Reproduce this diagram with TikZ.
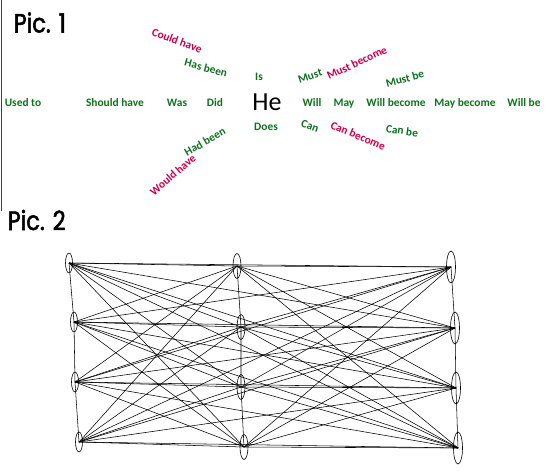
\documentclass[tikz,border=0pt]{standalone}
\usepackage{fontspec}
\setmainfont{Carlito}
\newfontfamily\picfont[FakeStretch=0.85,FakeBold=2]{Poppins}
\usetikzlibrary{shapes.geometric}
\definecolor{wgreen}{RGB}{16,112,32}
\definecolor{wred}{RGB}{200,0,80}
\begin{document}
\begin{tikzpicture}[x=1pt,y=-1pt,
  wbase/.style={font=\bfseries\fontsize{11.4}{12}\selectfont,inner sep=0pt,text height=7.3pt,text depth=0pt,anchor=center},
  gw/.style={wbase,text=wgreen},
  rw/.style={wbase,text=wred},
  titletext/.style={font=\picfont\fontsize{26.5}{30}\selectfont,inner sep=0pt,anchor=base west},
  vtx/.style={draw,ellipse,inner sep=0pt,line width=0.6pt},
  lv/.style={vtx,minimum width=7pt,minimum height=20pt},
  mv/.style={vtx,minimum width=8pt,minimum height=25pt},
  rv/.style={vtx,minimum width=9pt,minimum height=32pt},
  edge/.style={line width=0.55pt}]
\useasboundingbox (0,0) rectangle (552,471);
\fill[white] (0,0) rectangle (552,471);
% left rule
\coordinate (ruletop) at (1.5,0);
\coordinate (rulebot) at (1.5,211);
\draw[line width=1pt,black!75] (ruletop) -- (rulebot);
% titles
\node[titletext] (pic1) at (13.5,32.5) {Pic. 1};
\node[titletext] (pic2) at (7.5,230) {Pic. 2};
% Pic 1 words
\node[font=\fontsize{26}{28}\selectfont,inner sep=0pt,anchor=base] (he) at (267,110) {He};
\node[gw] (usedto) at (23,102.5) {Used to};
\node[gw] (shouldhave) at (115,102.5) {Should have};
\node[gw] (was) at (177,102.5) {Was};
\node[gw] (did) at (215,102.5) {Did};
\node[gw] (will) at (312,102.5) {Will};
\node[gw] (may) at (344,102.5) {May};
\node[gw] (willbecome) at (396,102.5) {Will become};
\node[gw] (maybecome) at (465,102.5) {May become};
\node[gw] (willbe) at (524,102.5) {Will be};
\node[gw] (is) at (259,77) {Is};
\node[gw] (does) at (266,127) {Does};
\node[rw,rotate=-20] (couldhave) at (177,41) {Could have};
\node[gw,rotate=-15] (hasbeen) at (206,68) {Has been};
\node[gw,rotate=30] (hadbeen) at (205,142) {Had been};
\node[rw,rotate=41] (wouldhave) at (173,175) {Would have};
\node[gw,rotate=18] (must) at (310,76) {Must};
\node[rw,rotate=25] (mustbecome) at (357,63) {Must become};
\node[gw,rotate=15] (mustbe) at (405,79) {Must be};
\node[gw,rotate=-20] (can) at (310,126) {Can};
\node[rw,rotate=-23] (canbecome) at (358,136) {Can become};
\node[gw,rotate=-8] (canbe) at (402,131) {Can be};
% Pic 2 graph
\node[lv] (L1) at (69,263) {};
\node[lv] (L2) at (74,322) {};
\node[lv] (L3) at (75,382) {};
\node[lv] (L4) at (79,442) {};
\node[mv] (M1) at (237,266) {};
\node[mv] (M2) at (241,327) {};
\node[mv] (M3) at (241,387) {};
\node[mv] (M4) at (244,447) {};
\node[rv] (R1) at (451,267) {};
\node[rv] (R2) at (455,328) {};
\node[rv] (R3) at (456,388) {};
\node[rv] (R4) at (458,448) {};
\draw[edge] (L1.center) -- (L2.center) -- (L3.center) -- (L4.center);
\draw[edge] (M1.center) -- (M2.center) -- (M3.center) -- (M4.center);
\draw[edge] (R1.center) -- (R2.center) -- (R3.center) -- (R4.center);
\foreach \i in {1,...,4}{
  \foreach \j in {1,...,4}{
    \draw[edge] (L\i.center) -- (M\j.center);
    \draw[edge] (M\i.center) -- (R\j.center);
    \draw[edge] (L\i.center) -- (R\j.center);
  }
}
\end{tikzpicture}
\end{document}
